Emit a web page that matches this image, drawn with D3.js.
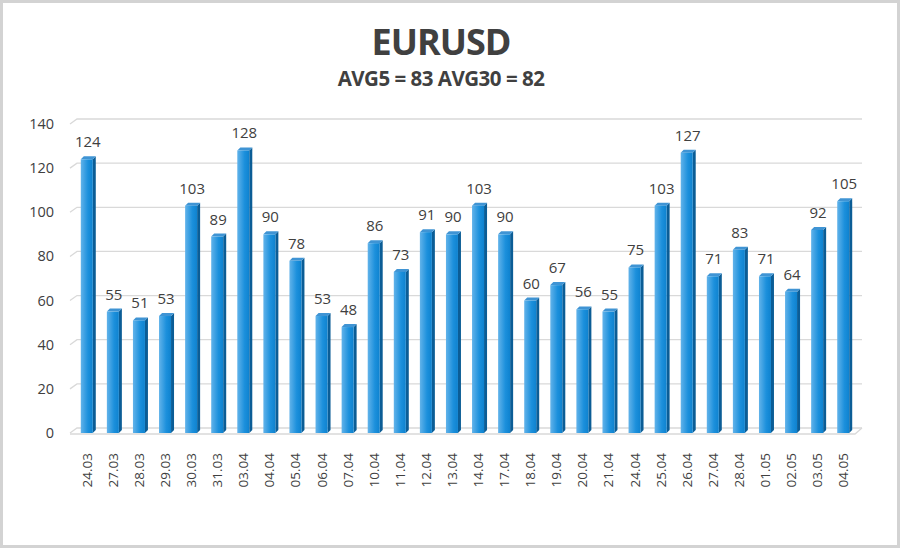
<!DOCTYPE html>
<html>
<head>
<meta charset="utf-8">
<script src="https://cdn.jsdelivr.net/npm/d3@7"></script>
<style>
body { margin: 0; background: #fff; }
text { font-family: "Open Sans", "DejaVu Sans", sans-serif; fill: #404040; }
</style>
</head>
<body>
<script>
var width = 900, height = 548;

var dates = ["24.03","27.03","28.03","29.03","30.03","31.03","03.04","04.04","05.04","06.04",
  "07.04","10.04","11.04","12.04","13.04","14.04","17.04","18.04","19.04","20.04",
  "21.04","24.04","25.04","26.04","27.04","28.04","01.05","02.05","03.05","04.05"];
var values = [124,55,51,53,103,89,128,90,78,53,48,86,73,91,90,103,90,60,67,56,55,75,103,127,71,83,71,64,92,105];
var yTicks = [0,20,40,60,80,100,120,140];
var title = "EURUSD";
var subtitle = "AVG5 = 83 AVG30 = 82";

var dx = 7, dy = -5;   // depth of the 3d walls

var svg = d3.select("body").append("svg")
    .attr("width", width).attr("height", height);

var defs = svg.append("defs");
var grad = defs.append("linearGradient").attr("id", "face").attr("x1", 0).attr("x2", 1).attr("y1", 0).attr("y2", 0);
grad.append("stop").attr("offset", "0%").attr("stop-color", "#62b3ea");
grad.append("stop").attr("offset", "60%").attr("stop-color", "#1c90dc");
grad.append("stop").attr("offset", "100%").attr("stop-color", "#0e82cf");

svg.append("rect").attr("x", 1.5).attr("y", 1.5).attr("width", width - 3).attr("height", height - 3)
    .attr("fill", "#fff").attr("stroke", "#d3d3d3").attr("stroke-width", 3);

var x = d3.scaleBand().domain(dates).range([74, 856]).paddingInner(0.54).paddingOuter(0.26);
var y = d3.scaleLinear().domain([0, 140]).range([433, 124]);

// gridlines on back wall with diagonal on side wall
var grid = svg.append("g");
yTicks.forEach(function(t) {
  grid.append("path")
    .attr("d", "M70," + y(t) + "L" + (70 + dx) + "," + (y(t) + dy) + "L862," + (y(t) + dy))
    .attr("fill", "none").attr("stroke", "#d9d9d9").attr("stroke-width", 1.3);
});
// floor front edge
grid.append("path")
  .attr("d", "M70," + (y(0) + 1) + "L" + (862 - dx) + "," + (y(0) + 1) + "L862," + (y(0) + dy))
  .attr("fill", "none").attr("stroke", "#d9d9d9").attr("stroke-width", 1.3);

// y axis labels
svg.append("g").selectAll("text").data(yTicks).enter().append("text")
  .attr("x", 54).attr("y", function(d) { return y(d) + 5; })
  .attr("text-anchor", "end").attr("font-size", 14.5).text(function(d) { return d; });

// bars
var bw = x.bandwidth(), sd = 3;
var bars = svg.append("g").selectAll("g").data(values).enter().append("g");
bars.append("path") // side
  .attr("d", function(d, i) {
    var x0 = x(dates[i]) + bw, t = y(d), b = y(0);
    return "M" + x0 + "," + t + "L" + (x0 + sd) + "," + (t - sd) + "L" + (x0 + sd) + "," + (b - sd) + "L" + x0 + "," + b + "Z";
  })
  .attr("fill", "#0b5d96");
bars.append("path") // top
  .attr("d", function(d, i) {
    var x0 = x(dates[i]), t = y(d);
    return "M" + x0 + "," + t + "L" + (x0 + sd) + "," + (t - sd) + "L" + (x0 + bw + sd) + "," + (t - sd) + "L" + (x0 + bw) + "," + t + "Z";
  })
  .attr("fill", "#3f94d4");
bars.append("rect") // front
  .attr("x", function(d, i) { return x(dates[i]); })
  .attr("y", function(d) { return y(d); })
  .attr("width", bw)
  .attr("height", function(d) { return y(0) - y(d); })
  .attr("fill", "url(#face)");

// value labels
bars.append("text")
  .attr("x", function(d, i) { return x(dates[i]) + bw / 2 + 1; })
  .attr("y", function(d) { return y(d) - 12; })
  .attr("text-anchor", "middle").attr("font-size", 15)
  .text(function(d) { return d; });

// x labels
svg.append("g").selectAll("text").data(dates).enter().append("text")
  .attr("transform", function(d) { return "translate(" + (x(d) + bw / 2 + 5) + ",453) rotate(-90)"; })
  .attr("text-anchor", "end").attr("font-size", 13.5).text(function(d) { return d; });

// titles
svg.append("text").attr("x", 441).attr("y", 55).attr("text-anchor", "middle")
  .attr("font-size", 36).attr("font-weight", "bold").attr("letter-spacing", -1).text(title);
svg.append("text").attr("x", 441).attr("y", 86).attr("text-anchor", "middle")
  .attr("font-size", 20.5).attr("font-weight", "bold").attr("letter-spacing", -0.5).text(subtitle);
</script>
</body>
</html>
